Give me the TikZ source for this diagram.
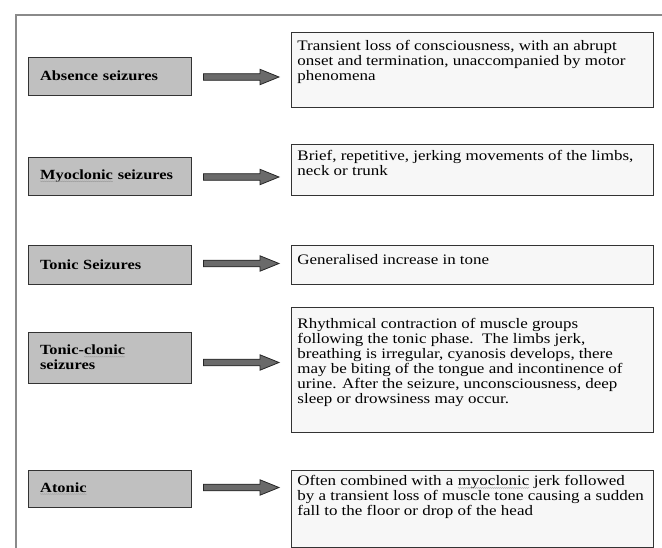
\documentclass[tikz,border=0pt]{standalone}
\usepackage{fontspec}
\setmainfont[FakeStretch=1.17]{Liberation Serif}
\usetikzlibrary{calc,decorations.pathmorphing}
\definecolor{labelgray}{HTML}{C0C0C0}
\definecolor{descgray}{HTML}{F7F7F7}
\definecolor{edgegray}{HTML}{333333}
\definecolor{arrowgray}{HTML}{6A6A6A}
\definecolor{framegray}{HTML}{8A8A8A}
\newcommand\spellcheck[1]{\tikz[baseline=(sc.base)]{\node[inner sep=0pt,outer sep=0pt,anchor=base,
    text width={},align=none,draw=none,fill=none,minimum width=0pt,minimum height=0pt,font=] (sc) {#1};
  \draw[gray!80,line width=0.35pt,decorate,decoration={snake,amplitude=0.45pt,segment length=2pt}]
    ([yshift=-2pt]sc.base west) -- ([yshift=-2pt]sc.base east);}}
\newcommand\desctext[3]{\parbox[t][#1][t]{350pt}{\vspace*{#2}\begin{tabular}{@{}l@{}}#3\end{tabular}}}
\begin{document}
\begin{tikzpicture}[x=1pt,y=-1pt,
    labelbox/.style={draw=edgegray,fill=labelgray,line width=0.9pt,minimum width=163pt,
      text width=139pt,align=left,inner xsep=12pt,font=\fontsize{14}{15}\selectfont\bfseries},
    descbox/.style={draw=edgegray,fill=descgray,line width=0.9pt,anchor=north west,
      inner xsep=6pt,inner ysep=0pt,font=\fontsize{14.5}{15}\selectfont},
    blockarrow/.style={fill=arrowgray,draw=black!85,line width=0.8pt,
      to path={let \p1=(\tikztostart), \p2=(\tikztotarget) in
        (\x1,\y1+3.3pt) -- (\x2-19pt,\y1+3.3pt) -- (\x2-19pt,\y1+7.7pt) -- (\x2,\y1)
        -- (\x2-19pt,\y1-7.7pt) -- (\x2-19pt,\y1-3.3pt) -- (\x1,\y1-3.3pt) -- cycle}}]
  \useasboundingbox (0,0) rectangle (662,548);
  \draw[framegray,line width=1.3pt] (16,548) -- (16,15) -- (662,15);

  \node[labelbox,minimum height=38pt] (absence) at (109.5,76) {Absence seizures};
  \node[labelbox,minimum height=38pt] (myoclonic) at (109.5,176) {\mbox{\spellcheck{Myoclonic} seizures}};
  \node[labelbox,minimum height=39pt] (tonic) at (109.5,264.5) {Tonic Seizures};
  \node[labelbox,minimum height=51pt] (tonicclonic) at (109.5,357.5) {Tonic-\spellcheck{clonic}\\seizures};
  \node[labelbox,minimum height=37pt] (atonic) at (109.5,488.5) {\spellcheck{Atonic}};

  \node[descbox] (absence-d) at (291,32) {\desctext{75pt}{8pt}{Transient loss of consciousness, with an abrupt\\
    onset and termination, unaccompanied by motor\\ phenomena}};
  \node[descbox] (myoclonic-d) at (291,144) {\desctext{51pt}{6pt}{Brief, repetitive, jerking movements of the limbs,\\
    neck or trunk}};
  \node[descbox] (tonic-d) at (291,245) {\desctext{39pt}{9pt}{Generalised increase in tone}};
  \node[descbox] (tonicclonic-d) at (291,307) {\desctext{125pt}{11pt}{Rhythmical contraction of muscle groups\\
    following the tonic phase.\ \ The limbs jerk,\\ breathing is irregular, cyanosis develops, there\\
    may be biting of the tongue and incontinence of\\ urine. After the seizure, unconsciousness, deep\\
    sleep or drowsiness may occur.}};
  \node[descbox] (atonic-d) at (291,470) {\desctext{77pt}{5pt}{Often combined with a \spellcheck{myoclonic} jerk followed\\
    by a transient loss of muscle tone causing a sudden\\ fall to the floor or drop of the head}};

  \draw[blockarrow] ([xshift=12pt,yshift=-1pt]absence.east) to ([xshift=-12pt]absence-d.west);
  \draw[blockarrow] ([xshift=12pt,yshift=-1pt]myoclonic.east) to ([xshift=-12pt]myoclonic-d.west);
  \draw[blockarrow] ([xshift=12pt,yshift=1pt]tonic.east) to ([xshift=-12pt]tonic-d.west);
  \draw[blockarrow] ([xshift=12pt,yshift=-5pt]tonicclonic.east) to ([xshift=-12pt]tonicclonic-d.west);
  \draw[blockarrow] ([xshift=12pt,yshift=1pt]atonic.east) to ([xshift=-12pt]atonic-d.west);
\end{tikzpicture}
\end{document}
